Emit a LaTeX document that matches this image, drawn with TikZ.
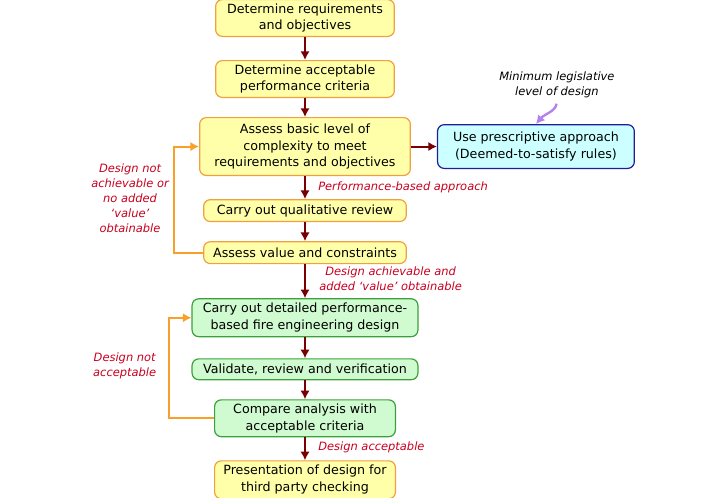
\documentclass[tikz,border=0pt]{standalone}
\usepackage{fontspec}
\setmainfont{DejaVu Sans}
\usetikzlibrary{positioning,arrows.meta,calc}
\definecolor{reqyellow}{RGB}{255,255,170}
\definecolor{edgeorange}{RGB}{240,160,60}
\definecolor{desgreen}{RGB}{208,250,208}
\definecolor{edgegreen}{RGB}{60,160,60}
\definecolor{rulecyan}{RGB}{204,255,255}
\definecolor{edgeblue}{RGB}{30,30,150}
\definecolor{flowred}{RGB}{120,0,0}
\definecolor{notered}{RGB}{200,0,30}
\definecolor{loopamber}{RGB}{250,160,40}
\definecolor{legviolet}{RGB}{180,130,240}

\begin{document}
\begin{tikzpicture}[>={Latex[length=6.5pt,width=7pt]},
    stepbox/.style={draw=edgeorange,fill=reqyellow,line width=0.9pt,rounded corners=5pt,align=center,
      font=\fontsize{9.5}{12.5}\selectfont,inner sep=2pt},
    desbox/.style={stepbox,draw=edgegreen,fill=desgreen},
    rulebox/.style={stepbox,draw=edgeblue,fill=rulecyan},
    flow/.style={->,draw=flowred,line width=1.5pt},
    back/.style={->,draw=loopamber,line width=1.5pt},
    note/.style={align=center,text=notered,font=\fontsize{8.6}{11.25}\selectfont\itshape,inner sep=0pt}]
    \useasboundingbox (0,0) rectangle (546pt,-372.75pt);
    % yellow part
    \node[stepbox,minimum width=134pt,minimum height=27.6pt] (req) at (228.75pt,-13.5pt)
        {Determine requirements\\and objectives};
    \node[stepbox,minimum width=134pt,minimum height=27.6pt,below=17.25pt of req] (crit)
        {Determine acceptable\\performance criteria};
    \node[stepbox,minimum width=158pt,minimum height=43.4pt,below=14.25pt of crit] (basic)
        {Assess basic level of\\complexity to meet\\requirements and objectives};
    \node[stepbox,minimum width=152pt,minimum height=16.4pt,below=17.25pt of basic] (qual)
        {Carry out qualitative review};
    \node[stepbox,minimum width=152pt,minimum height=16.4pt,below=14.25pt of qual] (value)
        {Assess value and constraints};
    \node[rulebox,minimum width=147.6pt,minimum height=32.8pt,right=19.5pt of basic] (presc)
        {Use prescriptive approach\\(Deemed-to-satisfy rules)};
    % green part
    \node[desbox,minimum width=169.4pt,minimum height=28.4pt,below=25.5pt of value] (detail)
        {Carry out detailed performance-\\based fire engineering design};
    \node[desbox,minimum width=169.4pt,minimum height=15.6pt,below=15.75pt of detail] (valid)
        {Validate, review and verification};
    \node[desbox,minimum width=135.6pt,minimum height=27.6pt,below=14.25pt of valid] (comp)
        {Compare analysis with\\acceptable criteria};
    \node[stepbox,minimum width=135.6pt,minimum height=28.4pt,below=17.25pt of comp] (third)
        {Presentation of design for\\third party checking};

    \draw[flow] (req) -- (crit);
    \draw[flow] (crit) -- (basic);
    \draw[flow] (basic) -- (qual);
    \draw[flow] (qual) -- (value);
    \draw[flow] (value) -- (detail);
    \draw[flow] (detail) -- (valid);
    \draw[flow] (valid) -- (comp);
    \draw[flow] (comp) -- (third);
    \draw[flow] (basic) -- (presc);

    % loops back
    \draw[back] (value.west) -- ++(-21.75pt,0) |- (basic.west);
    \draw[back] (comp.west) -- ++(-33.75pt,0) |- (detail.west);

    % labels
    \node[note,anchor=west] (perf) at ($(basic.south)!.5!(qual.north)+(9.75pt,0.5pt)$)
        {Performance-based approach};
    \node[note,anchor=west] (achv) at ($(value.south)!.5!(detail.north)+(10.5pt,1.5pt)$)
        {Design achievable and\\added `value' obtainable};
    \node[note,anchor=west] (accp) at ($(comp.south)!.5!(third.north)+(9.75pt,1pt)$)
        {Design acceptable};
    \node[note,anchor=east] (notach) at ($(qual.west)+(-25.5pt,9.4pt)$)
        {Design not\\achievable or\\no added\\`value'\\obtainable};
    \node[note,anchor=east] (notacc) at ($(valid.west)+(-26.25pt,2.25pt)$)
        {Design not\\acceptable};
    \node[note,text=black] (minlab) at ($(presc.north)+(15.75pt,29.25pt)$)
        {Minimum legislative\\level of design};
    \draw[->,draw=legviolet,line width=1.8pt,shorten <=4pt] (minlab.south) to[out=-95,in=50] (presc.north);
\end{tikzpicture}
\end{document}
